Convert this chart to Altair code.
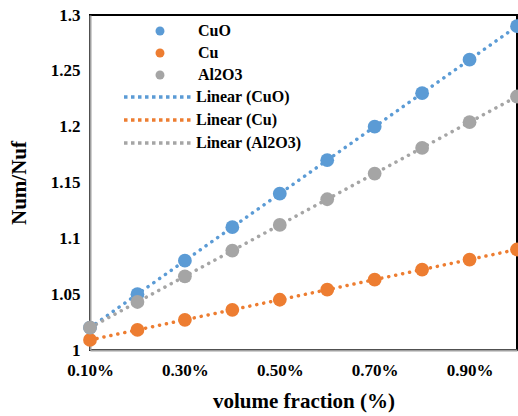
import altair as alt
import pandas as pd

fractions = [0.1, 0.2, 0.3, 0.4, 0.5, 0.6, 0.7, 0.8, 0.9, 1.0]
cuo = [1.02, 1.05, 1.08, 1.11, 1.14, 1.17, 1.20, 1.23, 1.26, 1.29]
cu = [1.009, 1.018, 1.027, 1.036, 1.045, 1.054, 1.063, 1.072, 1.081, 1.090]
al2o3 = [1.02, 1.043, 1.066, 1.089, 1.112, 1.135, 1.158, 1.181, 1.204, 1.227]

series_names = ["CuO", "Cu", "Al2O3"]
trend_names = ["Linear (CuO)", "Linear (Cu)", "Linear (Al2O3)"]
colors = ["#5B9BD5", "#ED7D31", "#A5A5A5"]
x_ticks = [0.1, 0.3, 0.5, 0.7, 0.9]
y_ticks = [1.0, 1.05, 1.1, 1.15, 1.2, 1.25, 1.3]

rows = []
for name, vals in zip(series_names, [cuo, cu, al2o3]):
    for f, v in zip(fractions, vals):
        rows.append({"x": f, "y": v, "series": name})
df = pd.DataFrame(rows)

FONT = "Liberation Serif"

xscale = alt.Scale(domain=[0.1, 1.0], nice=False, zero=False)
yscale = alt.Scale(domain=[1.0, 1.3], nice=False, zero=False)

xaxis = alt.Axis(values=x_ticks, labelExpr="format(datum.value, '.2f') + '%'",
                 title="volume fraction (%)", grid=False, ticks=False,
                 domainColor="#A0A0A0", domainWidth=2, labelPadding=12,
                 labelFlush=False, titlePadding=12)
yaxis = alt.Axis(values=y_ticks, format=".2~f", title="Num/Nuf",
                 grid=False, ticks=False, domainColor="#A0A0A0", domainWidth=2,
                 labelPadding=10, titlePadding=21)

base = alt.Chart(df)

lines = base.transform_regression(
    "x", "y", groupby=["series"]
).transform_calculate(
    trend="'Linear (' + datum.series + ')'"
).mark_line(strokeDash=[0.1, 7], strokeCap="round", strokeWidth=3.5).encode(
    x=alt.X("x:Q", scale=xscale, axis=xaxis),
    y=alt.Y("y:Q", scale=yscale, axis=yaxis),
    color=alt.Color("trend:N", scale=alt.Scale(domain=trend_names, range=colors),
                    legend=alt.Legend(title=None, orient="none", legendX=60, legendY=73,
                                      symbolType="M-5,0H5", symbolSize=196,
                                      symbolStrokeWidth=3.5, symbolDash=[3.5, 3.5],
                                      labelOffset=28, rowPadding=6, padding=0,
                                      labelFont=FONT, labelFontSize=16,
                                      labelFontWeight="bold", labelColor="black")),
    detail="series:N",
)

points = base.mark_circle(size=190, opacity=1).encode(
    x=alt.X("x:Q", scale=xscale, axis=xaxis),
    y=alt.Y("y:Q", scale=yscale, axis=yaxis),
    color=alt.Color("series:N", scale=alt.Scale(domain=series_names, range=colors),
                    legend=alt.Legend(title=None, orient="none", legendX=62, legendY=8,
                                      symbolType="circle", symbolSize=80,
                                      symbolOpacity=1,
                                      labelOffset=30, rowPadding=6, padding=0,
                                      labelFont=FONT, labelFontSize=16,
                                      labelFontWeight="bold", labelColor="black")),
)

chart = alt.layer(lines, points).resolve_scale(color="independent").properties(
    width=427, height=335,
    padding={"left": 90, "top": 15, "right": 1, "bottom": 66},
    autosize=alt.AutoSizeParams(type="none"),
    background="white",
).configure_view(
    stroke="black", strokeWidth=2
).configure_axis(
    labelFont=FONT, labelFontSize=17, labelFontWeight="bold", labelColor="black",
    titleFont=FONT, titleFontSize=21, titleFontWeight="bold", titleColor="black",
)

chart.save("out.html", embed_options={"renderer": "svg", "actions": False})
